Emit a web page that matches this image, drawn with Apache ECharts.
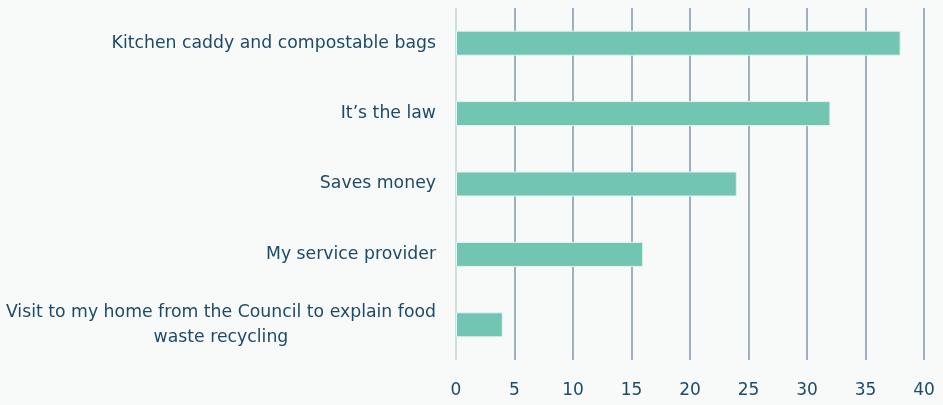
<!DOCTYPE html>
<html><head><meta charset="utf-8">
<script src="https://cdn.jsdelivr.net/npm/echarts@6/dist/echarts.min.js"></script>
<style>html,body{margin:0;padding:0;background:#f8fafa}#c{width:943px;height:405px}</style>
</head><body><div id="c"></div>
<script>
const categories = [
  "Kitchen caddy and compostable bags",
  "It\u2019s the law",
  "Saves money",
  "My service provider",
  "Visit to my home from the Council to explain food\nwaste recycling"
];
const values = [38, 32, 24, 16, 4];
const xMin = 0, xMax = 40, xStep = 5;

const FONT = 'DejaVu Sans';
const chart = echarts.init(document.getElementById('c'));
chart.setOption({
  backgroundColor: '#f8fafa',
  animation: false,
  grid: {left: 456, right: 19, top: 8, bottom: 45, containLabel: false},
  xAxis: {
    type: 'value', min: xMin, max: xMax, interval: xStep,
    axisLine: {show: false}, axisTick: {show: false},
    splitLine: {show: true, lineStyle: {color: '#8299ab', width: 1.5}},
    axisLabel: {color: '#1d4a68', fontSize: 17, fontFamily: FONT, margin: 22}
  },
  yAxis: {
    type: 'category', data: categories, inverse: true,
    axisLine: {show: true, lineStyle: {color: '#dff1ec', width: 1.5}},
    axisTick: {show: false},
    axisLabel: {
      color: '#1d4a68', fontSize: 17.3, fontFamily: FONT, margin: 20, align: 'right',
      formatter: v => v.split('\n').map(s => '{c|' + s + '}').join('\n'),
      rich: {c: {align: 'center', color: '#1d4a68', fontSize: 17.3, fontFamily: FONT, lineHeight: 25}}
    }
  },
  series: [{
    type: 'bar', data: values, barWidth: 25,
    itemStyle: {color: '#72c5b1', borderColor: '#e3f3ee', borderWidth: 1},
    silent: true
  }]
});
</script></body></html>
